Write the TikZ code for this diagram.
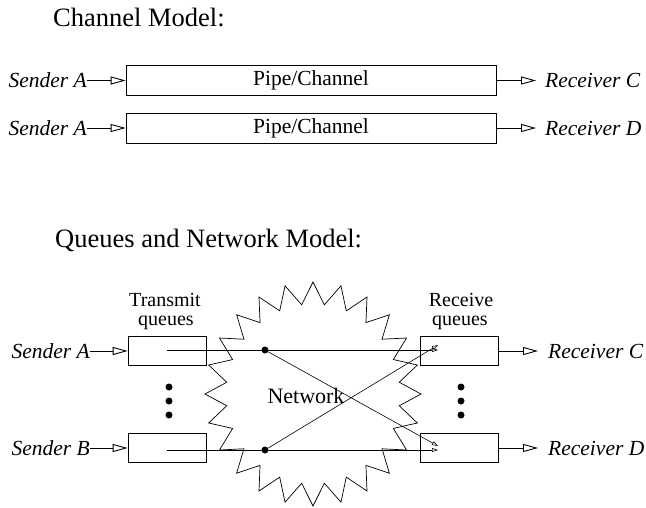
\documentclass[tikz,border=0pt]{standalone}
\usepackage{fontspec}
\setmainfont{Liberation Serif}
\usetikzlibrary{arrows.meta}
\begin{document}
\begin{tikzpicture}[x=1pt,y=-1pt,
  lbl/.style={font=\fontsize{21.5}{24}\selectfont\itshape, inner sep=0pt},
  ttl/.style={font=\fontsize{26.5}{30}\selectfont, inner sep=0pt, anchor=base west},
  txt/.style={font=\fontsize{20}{21}\selectfont, inner sep=0pt, anchor=base},
  pipe/.style={draw, line width=0.7pt, minimum width=370pt, minimum height=30pt, inner sep=0pt, font=\fontsize{21.5}{24}\selectfont},
  qbox/.style={draw, line width=0.7pt, minimum width=78pt, minimum height=29pt, inner sep=0pt},
  bigarr/.style={line width=0.9pt, -{Triangle[open, length=15pt, width=8pt, line width=0.9pt]}},
  smallarr/.style={line width=0.6pt, -{Triangle[open, length=6pt, width=4pt]}},
  dot/.style={circle, fill, inner sep=0pt, minimum size=7pt},
]
\useasboundingbox (0,0) rectangle (646,507);
% top part
\node[ttl] (t1) at (53,26) {Channel Model:};
\node[pipe] (p1) at (311,80.5) {Pipe/Channel};
\node[pipe] (p2) at (311,128) {Pipe/Channel};
\node[lbl, anchor=east] (s1) at (87,80.5) {Sender A};
\node[lbl, anchor=east] (s2) at (87,128) {Sender A};
\node[lbl, anchor=west] (r1) at (545,80.5) {Receiver C};
\node[lbl, anchor=west] (r2) at (545,128) {Receiver D};
\draw[bigarr] (s1.east) -- (p1.west);
\draw[bigarr] (s2.east) -- (p2.west);
\draw[bigarr] (p1.east) -- ([xshift=-9pt]r1.west);
\draw[bigarr] (p2.east) -- ([xshift=-9pt]r2.west);
% bottom part
\node[ttl] (t2) at (55,247) {Queues and Network Model:};
\draw[line width=0.7pt] plot[samples at={0,...,47}, variable=\i]
  ({313 + (mod(\i,2)==0 ? 108 : 87)*cos(\i*7.5)}, {394 + (mod(\i,2)==0 ? 112 : 90)*sin(\i*7.5)}) -- cycle;
\node[txt, font=\fontsize{22}{22}\selectfont] (net) at (306,403) {Network};
\node[txt] (tl1) at (165,306) {Transmit};
\node[txt] (tl2) at (166,325) {queues};
\node[txt] (rl1) at (461,306) {Receive};
\node[txt] (rl2) at (460,325) {queues};
\node[qbox] (tA) at (167,351) {};
\node[qbox] (tB) at (167,448) {};
\node[qbox] (qC) at (459,351) {};
\node[qbox] (qD) at (459,448) {};
\node[lbl, anchor=east] (sA) at (90,351) {Sender A};
\node[lbl, anchor=east] (sB) at (90,448) {Sender B};
\node[lbl, anchor=west] (rC) at (548,351) {Receiver C};
\node[lbl, anchor=west] (rD) at (548,448) {Receiver D};
\draw[bigarr] (sA.east) -- (tA.west);
\draw[bigarr] (sB.east) -- (tB.west);
\draw[bigarr] (qC.east) -- ([xshift=-10pt]rC.west);
\draw[bigarr] (qD.east) -- ([xshift=-10pt]rD.west);
\node[dot] (nA) at (265,350) {};
\node[dot] (nB) at (265,450) {};
\coordinate (cA) at (438,350);
\coordinate (cB) at (438,345);
\coordinate (dB) at (438,450);
\coordinate (dA) at (438,446);
\draw[smallarr] ([yshift=1pt]tA.center) -- (cA);
\draw[smallarr] ([yshift=-2pt]tB.center) -- (dB);
\draw[smallarr] (nA) -- (dA);
\draw[smallarr] (nB) -- (cB);
\foreach \k/\yy in {1/387,2/401,3/415} {
  \node[dot] (lv\k) at (169,\yy) {};
  \node[dot] (rv\k) at (461,\yy) {};
}
\end{tikzpicture}
\end{document}
